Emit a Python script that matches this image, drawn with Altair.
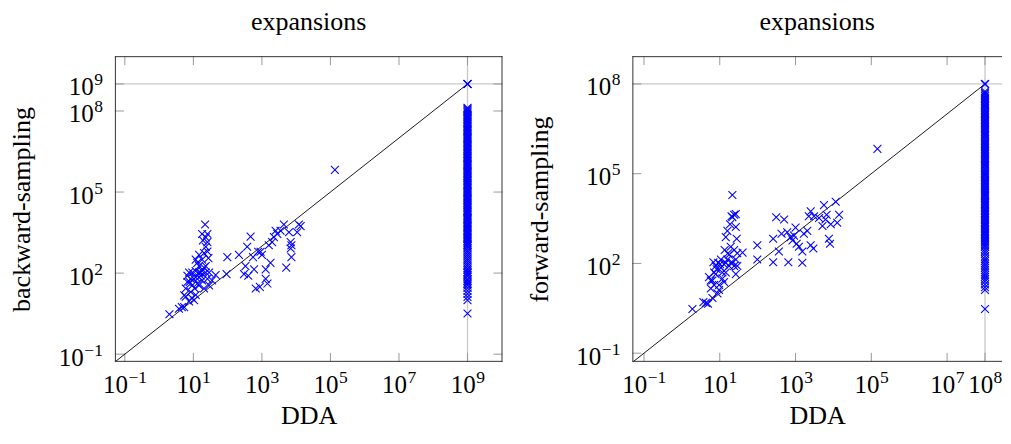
import altair as alt
import pandas as pd

# ---------------- data ----------------
# backward-sampling vs DDA (scattered points)
back_x = [2, 3.8, 4.6, 5.4, 9, 10.5, 5.4, 6, 6.7, 7.5, 8.4, 11.7, 14.7, 18, 20.5, 23, 25.7, 28.8,
          13, 14.7, 11.7, 20.5, 27.5, 25.7, 23, 25.7, 19, 23, 18, 25.7, 22, 44.7, 35,
          9.3, 8.4, 11.7, 14.7, 6, 7.5, 11.7, 16.3, 13, 6.7, 9.3, 10.5, 18, 23, 14.7, 7.8, 11, 20.5,
          28.8, 18, 16.3, 14.7,
          98, 93, 214, 372, 468, 331, 300, 400, 590, 550, 660, 870, 776, 912, 1000, 1290, 1290, 1450,
          1780, 1590, 1990, 2240, 2510, 2820, 3500, 4370, 5130, 6170, 6920, 7270, 6920, 7270, 10700,
          12000, 13500, 135000]
back_y = [3, 4.8, 5.5, 5.5, 12, 10, 15, 27, 47, 105, 61, 70, 105, 120, 160, 105, 61, 35,
          240, 475, 316, 550, 360, 630, 940, 1400, 1620, 2100, 2800, 2800, 6300, 85, 54,
          35, 20, 15.5, 35, 13.5, 9, 120, 80, 41, 80, 105, 61, 54, 182, 182, 47, 27, 27,
          105, 316, 105, 70,
          390, 92, 475, 940, 2240, 182, 92, 80, 138, 390, 27, 31, 620, 620, 475, 138, 61, 41,
          240, 1070, 1400, 2140, 3700, 2820, 3700, 6300, 160, 3240, 1400, 1070, 810, 390, 3240,
          6300, 5500, 660000]
# backward-sampling where DDA hit the limit (x = 1e9)
back_col_y = [1e9, 1e9, 1e9,
              1.3e8, 1.2e8, 1.1e8, 1e8,
              9e7, 8e7, 7e7, 6.3e7, 5.6e7, 5e7, 4.5e7, 4e7, 3.5e7, 3.2e7, 2.8e7, 2.5e7, 2.2e7, 2e7, 1.8e7, 1.6e7, 1.4e7, 1.25e7, 1.1e7, 1e7,
              9e6, 8e6, 7e6, 6.3e6, 5.6e6, 5e6, 4.5e6, 4e6, 3.5e6, 3.2e6, 2.8e6, 2.5e6, 2.2e6, 2e6, 1.8e6, 1.6e6, 1.4e6, 1.25e6, 1.1e6, 1e6,
              9e5, 8e5, 7e5, 6.3e5, 5.6e5, 5e5, 4.5e5, 4e5, 3.5e5, 3.2e5, 2.8e5, 2.5e5, 2.2e5, 2e5, 1.8e5, 1.6e5, 1.4e5, 1.25e5, 1.1e5, 1e5,
              9e4, 8e4, 7e4, 6.3e4, 5.6e4, 5e4, 4.5e4, 4e4, 3.5e4, 3.2e4, 2.8e4, 2.5e4, 2.2e4, 2e4, 1.8e4, 1.6e4, 1.4e4, 1.25e4, 1.1e4, 1e4,
              9e3, 8e3, 7e3, 6.3e3, 5.6e3, 5e3, 4.5e3, 4e3, 3.5e3, 3.2e3, 2.8e3, 2.5e3, 2.2e3, 2e3, 1.8e3, 1.6e3, 1.4e3, 1.25e3, 1.1e3, 1e3,
              850, 700, 600, 500, 420, 350, 300, 250, 210, 180, 150, 130, 110, 100, 85, 75, 60, 52, 45,
              40, 35, 28, 22, 17, 13, 10, 3.2]

# forward-sampling vs DDA (scattered points)
fwd_x = [1.9, 3.7, 4.3, 4.9, 6.4, 8.7, 9.6, 5.8, 5.2, 6.4, 7.1, 7.8, 6.8, 9.1, 10.7, 11.7, 13,
         13.5, 14.4, 15.9, 17.6, 19.5, 21.5, 24, 26.5, 28, 29, 26.5, 40, 18.7, 21.5, 24, 26.5,
         20.5, 26.5, 21.5,
         15.9, 17.6, 14.4, 10.7, 8.3, 11.7, 9.6, 13, 10.2, 14.4, 19.5, 7.8, 16.5, 24, 29, 5.8, 7.1,
         98, 98, 257, 257, 309, 500, 363, 427, 603, 645, 741, 832, 912, 1000, 1070, 1230, 1510,
         1510, 1660, 2040, 2240, 2510, 2950, 2510, 3090, 4170, 5130, 5620, 6170, 6610, 7590, 8130,
         8500, 11500, 12600, 14100, 145000]
fwd_y = [3, 5.1, 4.8, 4.5, 7, 10, 13, 14.5, 35, 27, 50, 82, 110, 105, 72, 50, 93,
         282, 760, 135, 195, 363, 105, 82, 44, 670, 220, 135, 230, 2040, 3500, 4260, 4470,
         3800, 1660, 19500,
         1230, 82, 50, 135, 64, 31, 19, 24, 95, 105, 105, 44, 220, 282, 82, 27, 19,
         407, 135, 110, 670, 3500, 2950, 250, 980, 1100, 110, 760, 589, 850, 1580, 457, 363, 105,
         250, 980, 1230, 3800, 5500, 316, 407, 3800, 3300, 1780, 8900, 2950, 4260, 670, 457,
         2040, 11500, 2290, 4260, 676000]
# forward-sampling where DDA hit the limit (x = 1e8)
fwd_col_y = [1e8, 1e8, 1e8,
             5.6e7, 5e7, 4.5e7, 4e7, 3.5e7, 3.2e7, 2.8e7, 2.5e7, 2.2e7, 2e7, 1.8e7, 1.6e7, 1.4e7, 1.25e7, 1.1e7, 1e7,
             9e6, 8e6, 7e6, 6.3e6, 5.6e6, 5e6, 4.5e6, 4e6, 3.5e6, 3.2e6, 2.8e6, 2.5e6, 2.2e6, 2e6, 1.8e6, 1.6e6, 1.4e6, 1.25e6, 1.1e6, 1e6,
             9e5, 8e5, 7e5, 6.3e5, 5.6e5, 5e5, 4.5e5, 4e5, 3.5e5, 3.2e5, 2.8e5, 2.5e5, 2.2e5, 2e5, 1.8e5, 1.6e5, 1.4e5, 1.25e5, 1.1e5, 1e5,
             9e4, 8e4, 7e4, 6.3e4, 5.6e4, 5e4, 4.5e4, 4e4, 3.5e4, 3.2e4, 2.8e4, 2.5e4, 2.2e4, 2e4, 1.8e4, 1.6e4, 1.4e4, 1.25e4, 1.1e4, 1e4,
             9e3, 8e3, 7e3, 6.3e3, 5.6e3, 5e3, 4.5e3, 4e3, 3.5e3, 3.2e3, 2.8e3, 2.5e3, 2.2e3, 2e3, 1.8e3, 1.6e3, 1.4e3, 1.25e3, 1.1e3, 1e3,
             900, 800, 700, 630, 560, 500, 450, 400, 360, 300, 250, 210, 170, 140, 120, 100, 85, 72, 60,
             50, 42, 36, 30, 25, 20, 16, 13, 3]

back_ticks_x = [0.1, 10, 1e3, 1e5, 1e7, 1e9]
back_exp_x = ["−1", "1", "3", "5", "7", "9"]
back_ticks_y = [0.1, 1e2, 1e5, 1e8, 1e9]
back_exp_y = ["−1", "2", "5", "8", "9"]
fwd_ticks_x = [0.1, 10, 1e3, 1e5, 1e7, 1e8]
fwd_exp_x = ["−1", "1", "3", "5", "7", "8"]
fwd_ticks_y = [0.1, 1e2, 1e5, 1e8]
fwd_exp_y = ["−1", "2", "5", "8"]

back_xdomain = [0.0513, 1.05e10]
back_ydomain = [0.0519, 1.07e10]
fwd_xdomain = [0.0494, 2.81e8]   # the plot runs past the right edge of the page
fwd_ydomain = [0.0513, 8.5e8]
back_limit = 1e9
fwd_limit = 1e8

# ---------------- style ----------------
FONT = "Liberation Serif"
W_LEFT, W_RIGHT, H = 388, 370, 306
TL = 9  # inward tick length
BLUE = "#0000FF"
TICKC = "#9a9a9a"
GRIDC = "#c8c8c8"
FRAMEC = "#333333"
BASE_FS = 25
EXP_FS = 17.5
XSHAPE = "M-1,-1L1,1M-1,1L1,-1"


def exp_width(e):
    return EXP_FS * (0.564 + 0.5) if e.startswith("−") else EXP_FS * 0.5


def panel(px, py, col_y, limit, xdomain, ydomain, W, tx, ex, ty, ey, ylab, right_side):
    xs = alt.Scale(type="log", domain=xdomain, nice=False)
    ys = alt.Scale(type="log", domain=ydomain, nice=False)

    pts = pd.DataFrame({"x": px + [limit] * len(col_y), "y": py + col_y})
    diag = pd.DataFrame({"x": [ydomain[0], limit], "y": [ydomain[0], limit]})
    dtx = pd.DataFrame({"x": tx, "e": ex})
    dty = pd.DataFrame({"y": ty, "e": ey})
    dlimx = pd.DataFrame({"x": [limit]})
    dlimy = pd.DataFrame({"y": [limit]})

    xaxis = alt.Axis(labels=False, ticks=False, grid=False, domain=False,
                     title="DDA", titleFont=FONT, titleFontSize=26, titleFontWeight="normal",
                     titleColor="black", titlePadding=41)
    yaxis = alt.Axis(labels=False, ticks=False, grid=False, domain=False,
                     title=ylab, titleFont=FONT, titleFontSize=26, titleFontWeight="normal",
                     titleColor="black", titlePadding=80)
    X = alt.X("x:Q", scale=xs, axis=xaxis)
    Y = alt.Y("y:Q", scale=ys, axis=yaxis)

    layers = []
    layers.append(alt.Chart(dlimx).mark_rule(color=GRIDC, strokeWidth=1.3).encode(x=X))
    layers.append(alt.Chart(dlimy).mark_rule(color=GRIDC, strokeWidth=1.3).encode(y=Y))

    tick = dict(color=TICKC, strokeWidth=1)
    layers.append(alt.Chart(dtx).mark_rule(**tick).encode(x=X, y=alt.value(H), y2=alt.value(H - TL)))
    layers.append(alt.Chart(dtx).mark_rule(**tick).encode(x=X, y=alt.value(0), y2=alt.value(TL)))
    layers.append(alt.Chart(dty).mark_rule(**tick).encode(y=Y, x=alt.value(0), x2=alt.value(TL)))
    if right_side:
        layers.append(alt.Chart(dty).mark_rule(**tick).encode(y=Y, x=alt.value(W), x2=alt.value(W - TL)))

    layers.append(alt.Chart(diag).mark_line(color="black", strokeWidth=0.9, clip=True).encode(x=X, y=Y))
    layers.append(alt.Chart(pts).mark_point(shape=XSHAPE, filled=False, size=62, strokeWidth=1.05,
                                            color=BLUE, opacity=1).encode(x=X, y=Y))

    # plot frame (the right panel's right side lies beyond the page)
    frame = dict(color=FRAMEC, strokeWidth=1)
    layers.append(alt.Chart(dlimx).mark_rule(**frame).encode(
        x=alt.value(0), x2=alt.value(W), y=alt.value(0.5)))
    layers.append(alt.Chart(dlimx).mark_rule(**frame).encode(
        x=alt.value(0), x2=alt.value(W), y=alt.value(H - 0.5)))
    layers.append(alt.Chart(dlimx).mark_rule(**frame).encode(
        x=alt.value(0.5), y=alt.value(0), y2=alt.value(H)))
    if right_side:
        layers.append(alt.Chart(dlimx).mark_rule(**frame).encode(
            x=alt.value(W - 0.5), y=alt.value(0), y2=alt.value(H)))

    # tick labels: "10" with a raised exponent
    for neg in (True, False):
        sx = dtx[dtx["e"].str.startswith("−") == neg]
        if len(sx):
            ew = exp_width("−1" if neg else "1")
            dxb = (BASE_FS * 1.0 + ew) / 2 - ew
            layers.append(alt.Chart(sx).mark_text(
                text="10", align="right", baseline="alphabetic", dx=dxb, font=FONT,
                fontSize=BASE_FS, color="black").encode(x=X, y=alt.value(H + 31)))
            layers.append(alt.Chart(sx).mark_text(
                align="left", baseline="alphabetic", dx=dxb + 0.5, font=FONT,
                fontSize=EXP_FS, color="black").encode(x=X, y=alt.value(H + 21), text="e:N"))
        sy = dty[dty["e"].str.startswith("−") == neg]
        if len(sy):
            ew = exp_width("−1" if neg else "1")
            layers.append(alt.Chart(sy).mark_text(
                text="10", align="right", baseline="alphabetic", dy=11.5, font=FONT,
                fontSize=BASE_FS, color="black").encode(y=Y, x=alt.value(-12 - ew - 0.5)))
            layers.append(alt.Chart(sy).mark_text(
                align="right", baseline="alphabetic", dy=1.5, font=FONT,
                fontSize=EXP_FS, color="black").encode(y=Y, x=alt.value(-12), text="e:N"))

    return alt.layer(*layers).properties(
        width=W, height=H,
        title=alt.TitleParams("expansions", font=FONT, fontSize=26, fontWeight="normal",
                              color="black", anchor="middle", frame="group", offset=21))


left = panel(back_x, back_y, back_col_y, back_limit, back_xdomain, back_ydomain, W_LEFT,
             back_ticks_x, back_exp_x, back_ticks_y, back_exp_y, "backward-sampling", True)
right = panel(fwd_x, fwd_y, fwd_col_y, fwd_limit, fwd_xdomain, fwd_ydomain, W_RIGHT,
              fwd_ticks_x, fwd_exp_x, fwd_ticks_y, fwd_exp_y, "forward-sampling", False)

chart = alt.hconcat(left, right, spacing=23).properties(
    padding={"left": 1, "top": 0, "right": 0, "bottom": 0}
).configure_view(strokeWidth=0)

chart.save("out.html", embed_options={"renderer": "svg", "actions": False})
